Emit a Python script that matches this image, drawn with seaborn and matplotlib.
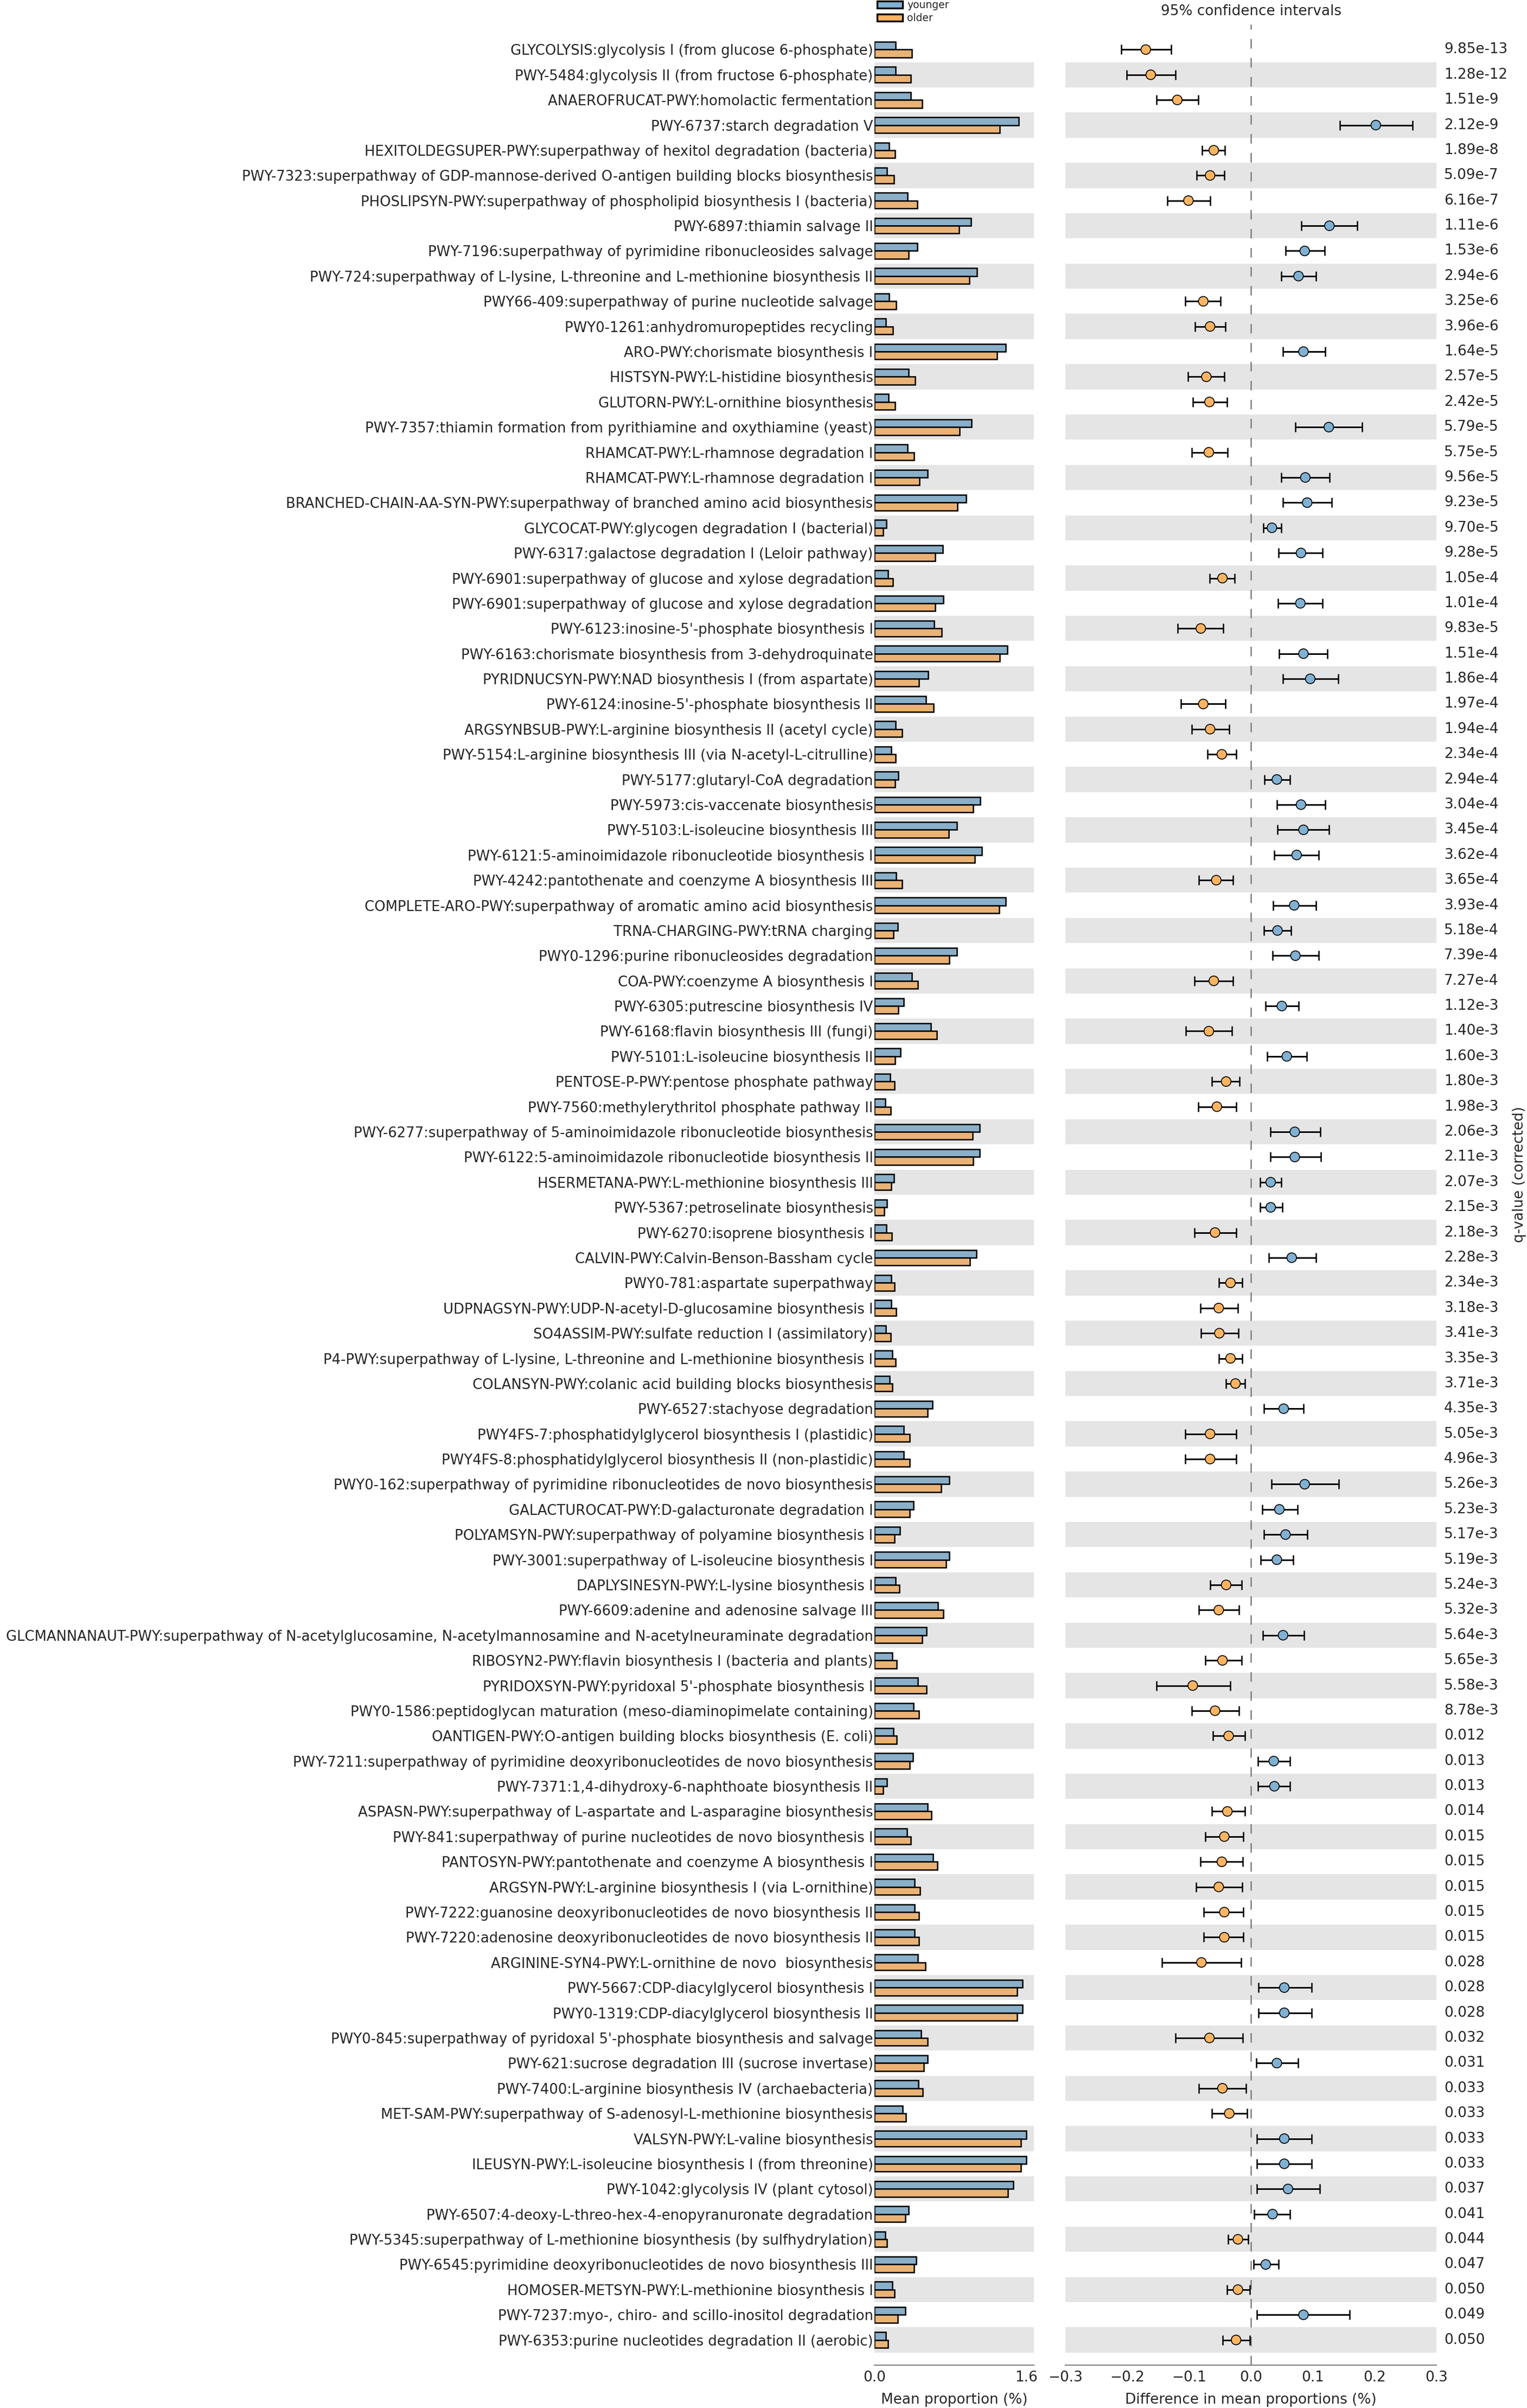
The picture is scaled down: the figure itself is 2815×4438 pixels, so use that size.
import numpy as np
import pandas as pd
import matplotlib
matplotlib.use("Agg")
import matplotlib.pyplot as plt
from matplotlib.patches import Patch
from matplotlib.transforms import blended_transform_factory
import seaborn as sns

names = [
    "GLYCOLYSIS:glycolysis I (from glucose 6-phosphate)",
    "PWY-5484:glycolysis II (from fructose 6-phosphate)",
    "ANAEROFRUCAT-PWY:homolactic fermentation",
    "PWY-6737:starch degradation V",
    "HEXITOLDEGSUPER-PWY:superpathway of hexitol degradation (bacteria)",
    "PWY-7323:superpathway of GDP-mannose-derived O-antigen building blocks biosynthesis",
    "PHOSLIPSYN-PWY:superpathway of phospholipid biosynthesis I (bacteria)",
    "PWY-6897:thiamin salvage II",
    "PWY-7196:superpathway of pyrimidine ribonucleosides salvage",
    "PWY-724:superpathway of L-lysine, L-threonine and L-methionine biosynthesis II",
    "PWY66-409:superpathway of purine nucleotide salvage",
    "PWY0-1261:anhydromuropeptides recycling",
    "ARO-PWY:chorismate biosynthesis I",
    "HISTSYN-PWY:L-histidine biosynthesis",
    "GLUTORN-PWY:L-ornithine biosynthesis",
    "PWY-7357:thiamin formation from pyrithiamine and oxythiamine (yeast)",
    "RHAMCAT-PWY:L-rhamnose degradation I",
    "RHAMCAT-PWY:L-rhamnose degradation I",
    "BRANCHED-CHAIN-AA-SYN-PWY:superpathway of branched amino acid biosynthesis",
    "GLYCOCAT-PWY:glycogen degradation I (bacterial)",
    "PWY-6317:galactose degradation I (Leloir pathway)",
    "PWY-6901:superpathway of glucose and xylose degradation",
    "PWY-6901:superpathway of glucose and xylose degradation",
    "PWY-6123:inosine-5'-phosphate biosynthesis I",
    "PWY-6163:chorismate biosynthesis from 3-dehydroquinate",
    "PYRIDNUCSYN-PWY:NAD biosynthesis I (from aspartate)",
    "PWY-6124:inosine-5'-phosphate biosynthesis II",
    "ARGSYNBSUB-PWY:L-arginine biosynthesis II (acetyl cycle)",
    "PWY-5154:L-arginine biosynthesis III (via N-acetyl-L-citrulline)",
    "PWY-5177:glutaryl-CoA degradation",
    "PWY-5973:cis-vaccenate biosynthesis",
    "PWY-5103:L-isoleucine biosynthesis III",
    "PWY-6121:5-aminoimidazole ribonucleotide biosynthesis I",
    "PWY-4242:pantothenate and coenzyme A biosynthesis III",
    "COMPLETE-ARO-PWY:superpathway of aromatic amino acid biosynthesis",
    "TRNA-CHARGING-PWY:tRNA charging",
    "PWY0-1296:purine ribonucleosides degradation",
    "COA-PWY:coenzyme A biosynthesis I",
    "PWY-6305:putrescine biosynthesis IV",
    "PWY-6168:flavin biosynthesis III (fungi)",
    "PWY-5101:L-isoleucine biosynthesis II",
    "PENTOSE-P-PWY:pentose phosphate pathway",
    "PWY-7560:methylerythritol phosphate pathway II",
    "PWY-6277:superpathway of 5-aminoimidazole ribonucleotide biosynthesis",
    "PWY-6122:5-aminoimidazole ribonucleotide biosynthesis II",
    "HSERMETANA-PWY:L-methionine biosynthesis III",
    "PWY-5367:petroselinate biosynthesis",
    "PWY-6270:isoprene biosynthesis I",
    "CALVIN-PWY:Calvin-Benson-Bassham cycle",
    "PWY0-781:aspartate superpathway",
    "UDPNAGSYN-PWY:UDP-N-acetyl-D-glucosamine biosynthesis I",
    "SO4ASSIM-PWY:sulfate reduction I (assimilatory)",
    "P4-PWY:superpathway of L-lysine, L-threonine and L-methionine biosynthesis I",
    "COLANSYN-PWY:colanic acid building blocks biosynthesis",
    "PWY-6527:stachyose degradation",
    "PWY4FS-7:phosphatidylglycerol biosynthesis I (plastidic)",
    "PWY4FS-8:phosphatidylglycerol biosynthesis II (non-plastidic)",
    "PWY0-162:superpathway of pyrimidine ribonucleotides de novo biosynthesis",
    "GALACTUROCAT-PWY:D-galacturonate degradation I",
    "POLYAMSYN-PWY:superpathway of polyamine biosynthesis I",
    "PWY-3001:superpathway of L-isoleucine biosynthesis I",
    "DAPLYSINESYN-PWY:L-lysine biosynthesis I",
    "PWY-6609:adenine and adenosine salvage III",
    "GLCMANNANAUT-PWY:superpathway of N-acetylglucosamine, N-acetylmannosamine and N-acetylneuraminate degradation",
    "RIBOSYN2-PWY:flavin biosynthesis I (bacteria and plants)",
    "PYRIDOXSYN-PWY:pyridoxal 5'-phosphate biosynthesis I",
    "PWY0-1586:peptidoglycan maturation (meso-diaminopimelate containing)",
    "OANTIGEN-PWY:O-antigen building blocks biosynthesis (E. coli)",
    "PWY-7211:superpathway of pyrimidine deoxyribonucleotides de novo biosynthesis",
    "PWY-7371:1,4-dihydroxy-6-naphthoate biosynthesis II",
    "ASPASN-PWY:superpathway of L-aspartate and L-asparagine biosynthesis",
    "PWY-841:superpathway of purine nucleotides de novo biosynthesis I",
    "PANTOSYN-PWY:pantothenate and coenzyme A biosynthesis I",
    "ARGSYN-PWY:L-arginine biosynthesis I (via L-ornithine)",
    "PWY-7222:guanosine deoxyribonucleotides de novo biosynthesis II",
    "PWY-7220:adenosine deoxyribonucleotides de novo biosynthesis II",
    "ARGININE-SYN4-PWY:L-ornithine de novo  biosynthesis",
    "PWY-5667:CDP-diacylglycerol biosynthesis I",
    "PWY0-1319:CDP-diacylglycerol biosynthesis II",
    "PWY0-845:superpathway of pyridoxal 5'-phosphate biosynthesis and salvage",
    "PWY-621:sucrose degradation III (sucrose invertase)",
    "PWY-7400:L-arginine biosynthesis IV (archaebacteria)",
    "MET-SAM-PWY:superpathway of S-adenosyl-L-methionine biosynthesis",
    "VALSYN-PWY:L-valine biosynthesis",
    "ILEUSYN-PWY:L-isoleucine biosynthesis I (from threonine)",
    "PWY-1042:glycolysis IV (plant cytosol)",
    "PWY-6507:4-deoxy-L-threo-hex-4-enopyranuronate degradation",
    "PWY-5345:superpathway of L-methionine biosynthesis (by sulfhydrylation)",
    "PWY-6545:pyrimidine deoxyribonucleotides de novo biosynthesis III",
    "HOMOSER-METSYN-PWY:L-methionine biosynthesis I",
    "PWY-7237:myo-, chiro- and scillo-inositol degradation",
    "PWY-6353:purine nucleotides degradation II (aerobic)",
]

qvalues = [
    "9.85e-13", "1.28e-12", "1.51e-9", "2.12e-9", "1.89e-8", "5.09e-7", "6.16e-7",
    "1.11e-6", "1.53e-6", "2.94e-6", "3.25e-6", "3.96e-6", "1.64e-5", "2.57e-5",
    "2.42e-5", "5.79e-5", "5.75e-5", "9.56e-5", "9.23e-5", "9.70e-5", "9.28e-5",
    "1.05e-4", "1.01e-4", "9.83e-5", "1.51e-4", "1.86e-4", "1.97e-4", "1.94e-4",
    "2.34e-4", "2.94e-4", "3.04e-4", "3.45e-4", "3.62e-4", "3.65e-4", "3.93e-4",
    "5.18e-4", "7.39e-4", "7.27e-4", "1.12e-3", "1.40e-3", "1.60e-3", "1.80e-3",
    "1.98e-3", "2.06e-3", "2.11e-3", "2.07e-3", "2.15e-3", "2.18e-3", "2.28e-3",
    "2.34e-3", "3.18e-3", "3.41e-3", "3.35e-3", "3.71e-3", "4.35e-3", "5.05e-3",
    "4.96e-3", "5.26e-3", "5.23e-3", "5.17e-3", "5.19e-3", "5.24e-3", "5.32e-3",
    "5.64e-3", "5.65e-3", "5.58e-3", "8.78e-3", "0.012", "0.013", "0.013",
    "0.014", "0.015", "0.015", "0.015", "0.015", "0.015", "0.028", "0.028",
    "0.028", "0.032", "0.031", "0.033", "0.033", "0.033", "0.033", "0.037",
    "0.041", "0.044", "0.047", "0.050", "0.049", "0.050",
]

younger = [
    0.225, 0.220, 0.384, 1.520, 0.153, 0.134, 0.350, 1.016, 0.451, 1.079,
    0.153, 0.120, 1.381, 0.360, 0.149, 1.021, 0.350, 0.561, 0.968, 0.125,
    0.719, 0.144, 0.724, 0.628, 1.400, 0.566, 0.542, 0.225, 0.177, 0.254,
    1.117, 0.868, 1.131, 0.230, 1.381, 0.245, 0.868, 0.393, 0.307, 0.594,
    0.273, 0.168, 0.115, 1.107, 1.107, 0.206, 0.134, 0.125, 1.074, 0.177,
    0.177, 0.120, 0.187, 0.158, 0.614, 0.307, 0.307, 0.786, 0.412, 0.268,
    0.786, 0.225, 0.671, 0.551, 0.187, 0.455, 0.412, 0.201, 0.407, 0.129,
    0.561, 0.340, 0.618, 0.422, 0.422, 0.422, 0.455, 1.558, 1.558, 0.494,
    0.561, 0.460, 0.297, 1.601, 1.601, 1.462, 0.360, 0.115, 0.441, 0.187,
    0.326, 0.120,
]

older = [
    0.393, 0.384, 0.503, 1.318, 0.216, 0.206, 0.451, 0.892, 0.360, 1.002,
    0.230, 0.192, 1.294, 0.427, 0.216, 0.896, 0.417, 0.475, 0.877, 0.091,
    0.642, 0.192, 0.642, 0.710, 1.318, 0.470, 0.623, 0.292, 0.225, 0.216,
    1.040, 0.781, 1.055, 0.292, 1.314, 0.201, 0.791, 0.455, 0.254, 0.657,
    0.216, 0.211, 0.173, 1.036, 1.040, 0.177, 0.105, 0.182, 1.007, 0.211,
    0.230, 0.173, 0.221, 0.187, 0.561, 0.374, 0.374, 0.700, 0.369, 0.211,
    0.753, 0.264, 0.724, 0.503, 0.235, 0.547, 0.470, 0.235, 0.369, 0.091,
    0.599, 0.384, 0.662, 0.479, 0.470, 0.470, 0.537, 1.505, 1.505, 0.561,
    0.518, 0.508, 0.331, 1.544, 1.544, 1.405, 0.326, 0.134, 0.417, 0.211,
    0.245, 0.144,
]

diff = [
    -0.170, -0.162, -0.119, 0.202, -0.060, -0.066, -0.101, 0.127, 0.087, 0.077,
    -0.077, -0.066, 0.085, -0.072, -0.067, 0.126, -0.068, 0.088, 0.091, 0.034,
    0.081, -0.046, 0.080, -0.081, 0.085, 0.096, -0.077, -0.066, -0.047, 0.042,
    0.081, 0.085, 0.074, -0.056, 0.070, 0.043, 0.072, -0.060, 0.050, -0.068,
    0.058, -0.040, -0.055, 0.071, 0.071, 0.032, 0.032, -0.058, 0.066, -0.033,
    -0.052, -0.051, -0.033, -0.025, 0.053, -0.066, -0.066, 0.087, 0.046, 0.056,
    0.042, -0.040, -0.052, 0.052, -0.046, -0.094, -0.058, -0.036, 0.037, 0.038,
    -0.038, -0.043, -0.047, -0.052, -0.043, -0.043, -0.080, 0.054, 0.054, -0.067,
    0.042, -0.046, -0.035, 0.054, 0.054, 0.060, 0.035, -0.021, 0.024, -0.021,
    0.085, -0.024,
]

ci_low = [
    -0.210, -0.201, -0.153, 0.144, -0.079, -0.088, -0.135, 0.082, 0.056, 0.049,
    -0.106, -0.090, 0.052, -0.102, -0.094, 0.072, -0.096, 0.049, 0.052, 0.020,
    0.045, -0.067, 0.044, -0.118, 0.046, 0.052, -0.113, -0.096, -0.070, 0.022,
    0.042, 0.043, 0.038, -0.084, 0.036, 0.021, 0.035, -0.091, 0.024, -0.105,
    0.026, -0.063, -0.085, 0.032, 0.032, 0.015, 0.015, -0.091, 0.029, -0.052,
    -0.082, -0.081, -0.052, -0.040, 0.021, -0.106, -0.106, 0.033, 0.018, 0.021,
    0.016, -0.066, -0.084, 0.019, -0.074, -0.153, -0.096, -0.061, 0.011, 0.011,
    -0.063, -0.074, -0.082, -0.089, -0.076, -0.076, -0.144, 0.012, 0.012, -0.122,
    0.009, -0.084, -0.063, 0.010, 0.010, 0.010, 0.005, -0.037, 0.004, -0.039,
    0.010, -0.046,
]

ci_high = [
    -0.129, -0.122, -0.085, 0.261, -0.042, -0.043, -0.066, 0.172, 0.119, 0.105,
    -0.049, -0.041, 0.120, -0.043, -0.039, 0.180, -0.038, 0.127, 0.131, 0.049,
    0.116, -0.026, 0.116, -0.045, 0.124, 0.141, -0.041, -0.035, -0.024, 0.063,
    0.120, 0.126, 0.110, -0.029, 0.105, 0.065, 0.110, -0.029, 0.077, -0.031,
    0.090, -0.018, -0.024, 0.112, 0.113, 0.049, 0.051, -0.024, 0.105, -0.014,
    -0.021, -0.020, -0.014, -0.010, 0.085, -0.024, -0.024, 0.142, 0.075, 0.091,
    0.068, -0.015, -0.019, 0.086, -0.015, -0.033, -0.019, -0.010, 0.063, 0.063,
    -0.010, -0.012, -0.013, -0.014, -0.012, -0.012, -0.016, 0.098, 0.098, -0.013,
    0.076, -0.008, -0.006, 0.098, 0.098, 0.111, 0.063, -0.004, 0.045, -0.002,
    0.160, -0.002,
]

groups = ["younger", "older"]
group_colors = {"younger": "#80b1d3", "older": "#fdb462"}
band_color = "#e5e5e5"

# ---------------------------------------------------------------------------
sns.set_style("white")
plt.rcParams["font.family"] = ["DejaVu Sans"]
FS = 6.3
FS_ROW = 6.22

W, H, DPI = 2815, 4438, 300
fig = plt.figure(figsize=(W / DPI, H / DPI), dpi=DPI)

n = len(names)
rows = list(range(n))
top_px, bot_px = 45, 4359
ax_b = fig.add_axes([1612 / W, 1 - bot_px / H, 294 / W, (bot_px - top_px) / H])
ax_d = fig.add_axes([1964 / W, 1 - bot_px / H, 684 / W, (bot_px - top_px) / H])

# long table for the bar chart
bar_df = pd.DataFrame({
    "row": rows * 2,
    "value": younger + older,
    "group": ["younger"] * n + ["older"] * n,
})

for r in rows:
    if r % 2 == 1:
        ax_b.axhspan(r - 0.5, r + 0.5, color=band_color, lw=0, zorder=0)
        ax_d.axhspan(r - 0.5, r + 0.5, color=band_color, lw=0, zorder=0)

sns.barplot(data=bar_df, x="value", y="row", hue="group", order=rows,
            hue_order=groups, palette=group_colors, orient="h", width=0.62,
            edgecolor="black", linewidth=0.6, errorbar=None, legend=False,
            ax=ax_b, zorder=2)

ax_b.set_ylim(n, -1)
ax_b.set_xlim(0, 1.68)
ax_b.set_xticks([0.0, 1.6])
ax_b.set_xticklabels(["0.0", "1.6"])
ax_b.set_yticks(rows)
ax_b.set_yticklabels(names)
ax_b.set_ylabel("")
ax_b.set_xlabel("Mean proportion (%)", fontsize=FS, labelpad=3.5)

# difference panel
diff_df = pd.DataFrame({
    "row": rows,
    "diff": diff,
    "lo": ci_low,
    "hi": ci_high,
})
diff_df["group"] = np.where(diff_df["diff"] > 0, "younger", "older")

ax_d.axvline(0, color="#7f7f7f", lw=0.6, dashes=(7, 7), zorder=1)
ax_d.errorbar(diff_df["diff"], diff_df["row"],
              xerr=[diff_df["diff"] - diff_df["lo"], diff_df["hi"] - diff_df["diff"]],
              fmt="none", ecolor="black", elinewidth=0.7, capsize=2.2,
              capthick=0.6, zorder=2)
sns.scatterplot(data=diff_df, x="diff", y="row", hue="group", palette=group_colors,
                s=18, edgecolor="black", linewidth=0.4, legend=False, ax=ax_d,
                zorder=3)
ax_d.set_ylim(n, -1)
ax_d.set_xlim(-0.3, 0.3)
ticks = [-0.3, -0.2, -0.1, 0.0, 0.1, 0.2, 0.3]
ax_d.set_xticks(ticks)
ax_d.set_xticklabels([f"{t:.1f}".replace("-", "\u2212") for t in ticks])
ax_d.set_yticks([])
ax_d.set_ylabel("")
ax_d.set_xlabel("Difference in mean proportions (%)", fontsize=FS, labelpad=3.5)
ax_d.set_title("95% confidence intervals", fontsize=FS, pad=4)

q_trans = blended_transform_factory(fig.transFigure, ax_d.transData)
for r, q in zip(rows, qvalues):
    ax_d.text(2662 / W, r, q, transform=q_trans, ha="left", va="center",
              fontsize=FS)

fig.text(2801 / W, 1 - 2165 / H, "q-value (corrected)", rotation=90,
         ha="center", va="center", fontsize=FS)

for ax in (ax_b, ax_d):
    for s in ("left", "right", "top"):
        ax.spines[s].set_visible(False)
    ax.spines["bottom"].set_color("#808080")
    ax.spines["bottom"].set_linewidth(0.5)
    ax.tick_params(axis="x", direction="in", length=2.8, width=0.5,
                   color="#808080", labelsize=FS, pad=2.5)
    ax.tick_params(axis="y", length=0, labelsize=FS_ROW, pad=0.6)
    ax.set_facecolor("none")
    ax.grid(False)

handles = [Patch(facecolor=group_colors[g], edgecolor="black", linewidth=0.8, label=g)
           for g in groups]
fig.legend(handles=handles, loc="upper left", bbox_to_anchor=(1617 / W, 1.0),
           bbox_transform=fig.transFigure, frameon=False, fontsize=4.5,
           borderpad=0, borderaxespad=0, handlelength=2.5, handleheight=0.7,
           handletextpad=0.43, labelspacing=0.25)

fig.savefig("out.png", dpi=DPI)
